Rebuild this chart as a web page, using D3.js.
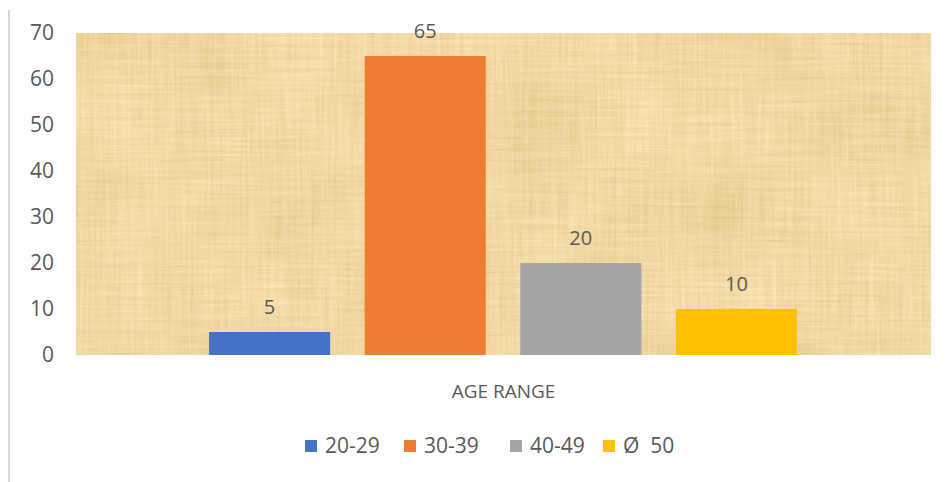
<!DOCTYPE html>
<html>
<head>
<meta charset="utf-8">
<script src="https://cdn.jsdelivr.net/npm/d3@7"></script>
<style>
  body { margin: 0; background: #fff; }
  text { font-family: "Open Sans", sans-serif; fill: #595959; }
</style>
</head>
<body>
<svg id="chart"></svg>
<script>
const ageRanges = ['20-29', '30-39', '40-49', 'Ø  50'];
const counts = [5, 65, 20, 10];
const barColors = ['#4472C4', '#ED7D31', '#A5A5A5', '#FFC000'];
const categoryLabel = 'AGE RANGE';
const yTicks = [0, 10, 20, 30, 40, 50, 60, 70];

const dimensions = { width: 951, height: 482 };
const plot = { left: 76, right: 931, top: 33, bottom: 355 };

const svg = d3.select('#chart').attr('width', dimensions.width).attr('height', dimensions.height);

// papyrus-like texture for the plot area
const defs = svg.append('defs');
const filt = defs.append('filter').attr('id', 'papyrus')
  .attr('color-interpolation-filters', 'sRGB')
  .attr('x', 0).attr('y', 0).attr('width', 1).attr('height', 1);
filt.append('feTurbulence').attr('type', 'fractalNoise')
  .attr('baseFrequency', '0.35 0.012').attr('numOctaves', 3).attr('seed', 3).attr('result', 'vert');
filt.append('feTurbulence').attr('type', 'fractalNoise')
  .attr('baseFrequency', '0.012 0.35').attr('numOctaves', 3).attr('seed', 7).attr('result', 'hor');
filt.append('feTurbulence').attr('type', 'fractalNoise')
  .attr('baseFrequency', '0.012').attr('numOctaves', 2).attr('seed', 11).attr('result', 'blot');
filt.append('feComposite').attr('in', 'vert').attr('in2', 'hor')
  .attr('operator', 'arithmetic').attr('k1', 0).attr('k2', 0.5).attr('k3', 0.5).attr('k4', 0)
  .attr('result', 'weave');
filt.append('feComposite').attr('in', 'weave').attr('in2', 'blot')
  .attr('operator', 'arithmetic').attr('k1', 0).attr('k2', 0.7).attr('k3', 0.3).attr('k4', 0)
  .attr('result', 'mix');
filt.append('feColorMatrix').attr('in', 'mix').attr('type', 'matrix')
  .attr('values', [
    0.17, 0, 0, 0, 0.86,
    0.23, 0, 0, 0, 0.73,
    0.33, 0, 0, 0, 0.47,
    0, 0, 0, 0, 1
  ].join(' '));

// left frame line
svg.append('line')
  .attr('x1', 9).attr('x2', 9).attr('y1', 10).attr('y2', dimensions.height)
  .attr('stroke', '#d9d9d9').attr('stroke-width', 2);

svg.append('rect')
  .attr('x', plot.left).attr('y', plot.top)
  .attr('width', plot.right - plot.left).attr('height', plot.bottom - plot.top)
  .attr('fill', '#ebd49e')
  .attr('filter', 'url(#papyrus)');

const y = d3.scaleLinear().domain([0, 70]).range([plot.bottom, plot.top]);

const x = d3.scaleBand().domain(ageRanges)
  .range([193.5, 812.5]).paddingInner(0.222).paddingOuter(0.1);

// y axis labels
const yAxis = svg.append('g')
  .attr('transform', `translate(${plot.left - 10},0)`)
  .call(d3.axisLeft(y).tickValues(yTicks).tickSize(0).tickPadding(12));
yAxis.select('.domain').remove();
yAxis.selectAll('text')
  .attr('font-size', 21).attr('fill', '#595959')
  .style('font-family', '"Open Sans", sans-serif');

// bars
svg.selectAll('rect.bar')
  .data(counts)
  .join('rect')
  .attr('class', 'bar')
  .attr('x', (d, i) => x(ageRanges[i]))
  .attr('y', d => y(d))
  .attr('width', x.bandwidth())
  .attr('height', d => y(0) - y(d))
  .attr('fill', (d, i) => barColors[i]);

// value labels
svg.selectAll('text.val')
  .data(counts)
  .join('text')
  .attr('class', 'val')
  .attr('x', (d, i) => x(ageRanges[i]) + x.bandwidth() / 2)
  .attr('y', d => y(d) - 18)
  .attr('text-anchor', 'middle')
  .attr('font-size', 20)
  .text(d => d);

// category label
svg.append('text')
  .attr('x', (plot.left + plot.right) / 2)
  .attr('y', 398)
  .attr('text-anchor', 'middle')
  .attr('font-size', 19)
  .text(categoryLabel);

// legend
const legendX = [305, 404, 510, 603];
const legend = svg.selectAll('g.leg')
  .data(ageRanges)
  .join('g')
  .attr('class', 'leg')
  .attr('transform', (d, i) => `translate(${legendX[i]},440)`);
legend.append('rect')
  .attr('width', 12).attr('height', 12)
  .attr('fill', (d, i) => barColors[i]);
legend.append('text')
  .attr('x', 20).attr('y', 13)
  .attr('font-size', 21)
  .attr('xml:space', 'preserve')
  .style('white-space', 'pre')
  .text(d => d);
</script>
</body>
</html>
